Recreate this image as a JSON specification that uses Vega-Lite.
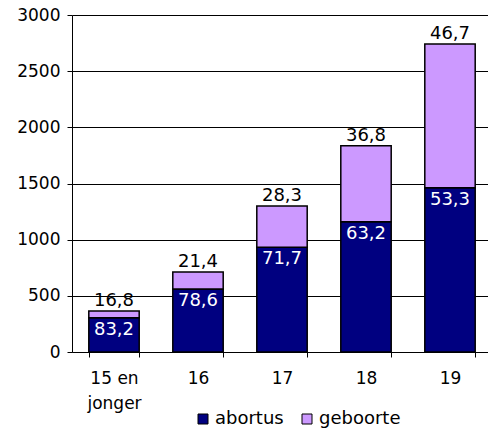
{
  "$schema": "https://vega.github.io/schema/vega-lite/v6.json",
  "autosize": "none",
  "width": 420,
  "height": 337,
  "padding": {"left": 72, "top": 15, "right": 0, "bottom": 78},
  "background": "white",
  "title": {
    "text": "Verhouding abortus en geboorte naar leeftijd, 2006",
    "anchor": "start",
    "offset": 2,
    "dx": 28,
    "fontSize": 16,
    "font": "DejaVu Sans",
    "fontWeight": "normal",
    "color": "black",
    "baseline": "bottom",
    "dy": 12
  },
  "config": {
    "font": "DejaVu Sans",
    "view": {"stroke": null},
    "axis": {"labelFont": "DejaVu Sans", "labelFontSize": 17, "labelColor": "black", "domainColor": "black", "tickColor": "black", "titleColor": "black"}
  },
  "data": {
    "values": [
      {"leeftijd": "15 en jonger", "type": "abortus", "aantal": 304, "pct": "83,2"},
      {"leeftijd": "15 en jonger", "type": "geboorte", "aantal": 62, "pct": "16,8"},
      {"leeftijd": "16", "type": "abortus", "aantal": 560, "pct": "78,6"},
      {"leeftijd": "16", "type": "geboorte", "aantal": 152, "pct": "21,4"},
      {"leeftijd": "17", "type": "abortus", "aantal": 932, "pct": "71,7"},
      {"leeftijd": "17", "type": "geboorte", "aantal": 368, "pct": "28,3"},
      {"leeftijd": "18", "type": "abortus", "aantal": 1160, "pct": "63,2"},
      {"leeftijd": "18", "type": "geboorte", "aantal": 675, "pct": "36,8"},
      {"leeftijd": "19", "type": "abortus", "aantal": 1462, "pct": "53,3"},
      {"leeftijd": "19", "type": "geboorte", "aantal": 1280, "pct": "46,7"}
    ]
  },
  "encoding": {
    "x": {
      "field": "leeftijd",
      "type": "nominal",
      "sort": null,
      "scale": {"paddingInner": 0.4, "paddingOuter": 0.2},
      "axis": {
        "title": null,
        "labelAngle": 0,
        "tickBand": "extent",
        "tickSize": 5,
        "labelPadding": 13,
        "labelLineHeight": 25,
        "labelBaseline": "top",
        "labelExpr": "datum.value == '15 en jonger' ? ['15 en', 'jonger'] : datum.value"
      }
    }
  },
  "layer": [
    {
      "mark": {"type": "bar", "stroke": "black", "strokeWidth": 1.5},
      "encoding": {
        "y": {
          "field": "aantal",
          "type": "quantitative",
          "stack": "zero",
          "scale": {"domain": [0, 3000], "nice": false},
          "axis": {
            "title": null,
            "format": "d",
            "values": [0, 500, 1000, 1500, 2000, 2500, 3000],
            "grid": true,
            "gridColor": "black",
            "gridOpacity": 1,
            "tickSize": 5,
            "labelPadding": 7
          }
        },
        "order": {"field": "type", "sort": "ascending"},
        "color": {
          "field": "type",
          "type": "nominal",
          "scale": {"domain": ["abortus", "geboorte"], "range": ["#000080", "#CC99FF"]},
          "legend": {
            "title": null,
            "orient": "none",
            "direction": "horizontal",
            "legendX": 122,
            "legendY": 395,
            "symbolType": "square",
            "symbolSize": 100,
            "symbolStrokeColor": "black",
            "symbolStrokeWidth": 1,
            "labelFontSize": 18,
            "labelColor": "black",
            "labelFont": "DejaVu Sans",
            "columnPadding": 14,
            "labelOffset": 3
          }
        }
      }
    },
    {
      "transform": [{"filter": "datum.type == 'abortus'"}],
      "mark": {"type": "text", "color": "white", "baseline": "top", "dy": 3, "fontSize": 18},
      "encoding": {
        "y": {"field": "aantal", "type": "quantitative"},
        "text": {"field": "pct"}
      }
    },
    {
      "transform": [
        {"joinaggregate": [{"op": "sum", "field": "aantal", "as": "totaal"}], "groupby": ["leeftijd"]},
        {"filter": "datum.type == 'geboorte'"}
      ],
      "mark": {"type": "text", "color": "black", "baseline": "bottom", "dy": -1, "fontSize": 18},
      "encoding": {
        "y": {"field": "totaal", "type": "quantitative"},
        "text": {"field": "pct"}
      }
    }
  ]
}
